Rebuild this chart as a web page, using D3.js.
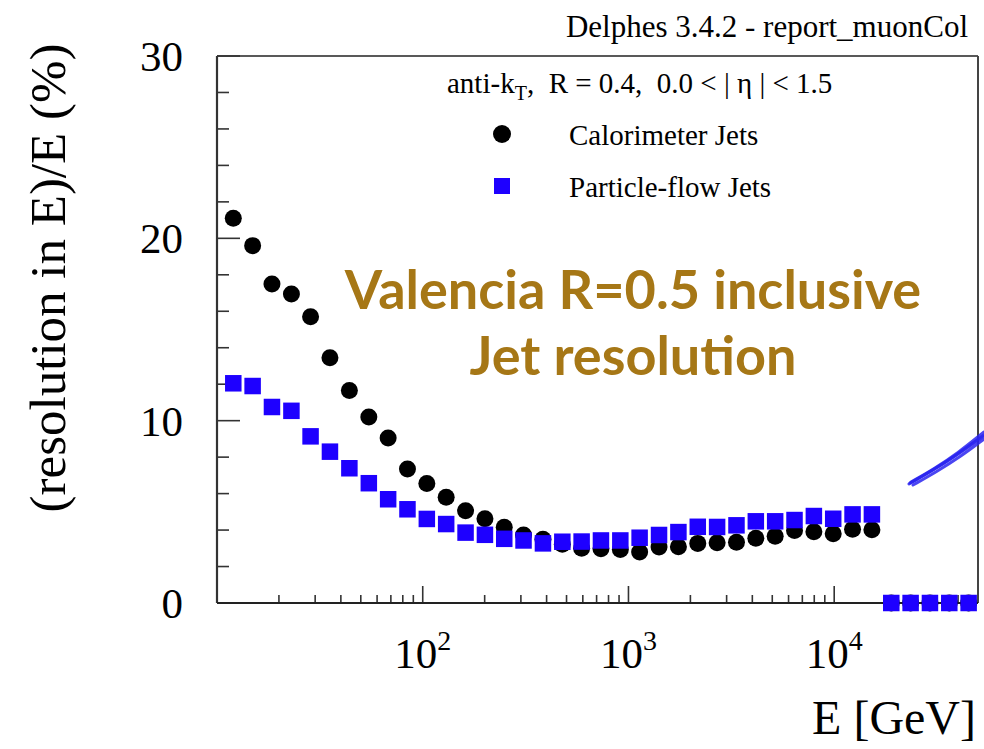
<!DOCTYPE html>
<html>
<head>
<meta charset="utf-8">
<script src="https://cdn.jsdelivr.net/npm/d3@7"></script>
<style>
  html, body { margin: 0; padding: 0; background: #fff; }
  svg { display: block; }
</style>
</head>
<body>
<svg id="chart" width="984" height="749"></svg>
<script>
// ---- data ----
const energies = [12.0, 14.9, 18.5, 23.0, 28.5, 35.4, 44.0, 54.7, 67.9, 84.3,
  104.7, 130, 161.5, 200.6, 249, 309, 384, 477, 592, 735,
  913, 1133, 1408, 1749, 2172, 2697, 3350, 4160, 5165, 6414,
  7965, 9890, 12280, 15250, 18940, 23520, 29200, 36260, 45030];
const caloRes = [21.1, 19.6, 17.5, 16.95, 15.7, 13.45, 11.65, 10.2, 9.05, 7.35,
  6.56, 5.8, 5.06, 4.62, 4.15, 3.73, 3.49, 3.22, 3.0, 2.97,
  2.94, 2.8, 3.07, 3.09, 3.27, 3.31, 3.33, 3.55, 3.66, 3.98,
  3.91, 3.8, 4.04, 4.02, 0, 0, 0, 0, 0];
const pflowRes = [12.05, 11.9, 10.75, 10.54, 9.14, 8.3, 7.39, 6.57, 5.69, 5.14,
  4.61, 4.33, 3.86, 3.74, 3.52, 3.43, 3.27, 3.36, 3.37, 3.43,
  3.43, 3.58, 3.73, 3.89, 4.18, 4.17, 4.26, 4.48, 4.48, 4.55,
  4.77, 4.62, 4.86, 4.86, 0, 0, 0, 0, 0];
const yMajorTicks = [0, 10, 20, 30];
const yMinorTicks = [2, 4, 6, 8, 12, 14, 16, 18, 22, 24, 26, 28];
const xMajorTicks = [100, 1000, 10000];
const xMajorExp = ["2", "3", "4"];
const xMinorTicks = [20, 30, 40, 50, 60, 70, 80, 90,
  200, 300, 400, 500, 600, 700, 800, 900,
  2000, 3000, 4000, 5000, 6000, 7000, 8000, 9000,
  20000, 30000, 40000];
const legendHeader = "anti-k";
const seriesNames = ["Calorimeter Jets", "Particle-flow Jets"];
const topLabel = "Delphes 3.4.2 - report_muonCol";
const titleLines = ["Valencia R=0.5 inclusive", "Jet resolution"];

// ---- layout ----
const svg = d3.select("#chart");
const L = 217, R = 978, T = 56, B = 603;
const x = d3.scaleLog().domain([10, 50000]).range([L, R]);
const y = d3.scaleLinear().domain([0, 30]).range([B, T]);
const serif = "'Liberation Serif', 'Times New Roman', serif";
const BLUE = "#1e00ff";

// frame
svg.append("line").attr("x1", L).attr("x2", R).attr("y1", T).attr("y2", T)
  .attr("stroke", "#222").attr("stroke-width", 1.5);
svg.append("line").attr("x1", R).attr("x2", R).attr("y1", T).attr("y2", B)
  .attr("stroke", "#444").attr("stroke-width", 2);

// y ticks
svg.selectAll(".ymaj").data(yMajorTicks).join("line")
  .attr("x1", L).attr("x2", L + 23).attr("y1", d => y(d)).attr("y2", d => y(d))
  .attr("stroke", "#333").attr("stroke-width", 1.6);
svg.selectAll(".ymin").data(yMinorTicks).join("line")
  .attr("x1", L).attr("x2", L + 12).attr("y1", d => y(d)).attr("y2", d => y(d))
  .attr("stroke", "#333").attr("stroke-width", 1.6);
svg.selectAll(".ylab").data(yMajorTicks).join("text")
  .attr("x", 183).attr("y", d => y(d) + 15)
  .attr("text-anchor", "end").attr("font-family", serif).attr("font-size", 43)
  .attr("fill", "#000").text(d => d);

// x ticks
svg.selectAll(".xmaj").data(xMajorTicks).join("line")
  .attr("x1", d => x(d)).attr("x2", d => x(d)).attr("y1", B).attr("y2", B - 17)
  .attr("stroke", "#333").attr("stroke-width", 1.6);
svg.selectAll(".xmin").data(xMinorTicks).join("line")
  .attr("x1", d => x(d)).attr("x2", d => x(d)).attr("y1", B).attr("y2", B - 8)
  .attr("stroke", "#333").attr("stroke-width", 1.6);
const xl = svg.selectAll(".xlab").data(xMajorTicks).join("text")
  .attr("x", d => x(d)).attr("y", 668)
  .attr("text-anchor", "middle").attr("font-family", serif).attr("font-size", 43)
  .attr("fill", "#000");
xl.append("tspan").text("10");
xl.append("tspan").attr("dy", -18).attr("font-size", 28).text((d, i) => xMajorExp[i]);

// axis lines
svg.append("line").attr("x1", L).attr("x2", L).attr("y1", T).attr("y2", B)
  .attr("stroke", "#333").attr("stroke-width", 2.2);
svg.append("line").attr("x1", L).attr("x2", R).attr("y1", B).attr("y2", B)
  .attr("stroke", "#222").attr("stroke-width", 2.2);

// axis titles
svg.append("text").attr("transform", "translate(65,278) rotate(-90)")
  .attr("text-anchor", "middle").attr("font-family", serif).attr("font-size", 51)
  .attr("fill", "#000").text("(resolution in E)/E (%)");
svg.append("text").attr("x", 976).attr("y", 734).attr("text-anchor", "end")
  .attr("font-family", serif).attr("font-size", 48).attr("fill", "#000").text("E [GeV]");

// top label
svg.append("text").attr("x", 968).attr("y", 37).attr("text-anchor", "end")
  .attr("font-family", serif).attr("font-size", 31).attr("fill", "#000").text(topLabel);

// data: circles then squares
const idx = d3.range(energies.length);
svg.selectAll(".calo").data(idx).join("circle")
  .attr("cx", i => x(energies[i])).attr("cy", i => y(caloRes[i])).attr("r", 8.5)
  .attr("fill", "#000");
const S = 16.5;
svg.selectAll(".pf").data(idx).join("rect")
  .attr("x", i => x(energies[i]) - S / 2).attr("y", i => y(pflowRes[i]) - S / 2)
  .attr("width", S).attr("height", S).attr("fill", BLUE);

// legend
const hdr = svg.append("text").attr("x", 447).attr("y", 93)
  .attr("font-family", serif).attr("font-size", 29).attr("fill", "#000");
hdr.append("tspan").text(legendHeader);
hdr.append("tspan").attr("dy", 7).attr("font-size", 20).text("T");
hdr.append("tspan").attr("dy", -7).text(",\u00a0\u00a0R = 0.4,\u00a0\u00a00.0 < | \u03b7 | < 1.5");

svg.append("circle").attr("cx", 502).attr("cy", 134).attr("r", 9).attr("fill", "#000");
svg.append("rect").attr("x", 494).attr("y", 178).attr("width", 16).attr("height", 16).attr("fill", BLUE);
svg.selectAll(".legtxt").data(seriesNames).join("text")
  .attr("x", 569).attr("y", (d, i) => 145 + i * 52)
  .attr("font-family", serif).attr("font-size", 29).attr("fill", "#000").text(d => d);

// annotation title
svg.selectAll(".ttl").data(titleLines).join("text")
  .attr("x", 633).attr("y", (d, i) => 309 + i * 66)
  .attr("text-anchor", "middle")
  .attr("font-family", "Lato, 'Open Sans', sans-serif").attr("font-weight", 700)
  .attr("font-size", 54).attr("fill", "#a67716").text(d => d);

// hand-drawn blue stroke
const strokeLine = d3.line().curve(d3.curveBasis);
const strands = [
  [[909, 484], [930, 472], [955, 456], [984, 435]],
  [[911, 482], [934, 469], [958, 453], [984, 432]],
  [[913, 485], [936, 472], [960, 457], [984, 439]],
  [[910, 483], [932, 471], [957, 455], [984, 436]]
];
svg.selectAll(".strand").data(strands).join("path")
  .attr("d", d => strokeLine(d)).attr("fill", "none")
  .attr("stroke", "#2a24f0").attr("stroke-width", 3).attr("stroke-linecap", "round")
  .attr("opacity", 0.85);
</script>
</body>
</html>
